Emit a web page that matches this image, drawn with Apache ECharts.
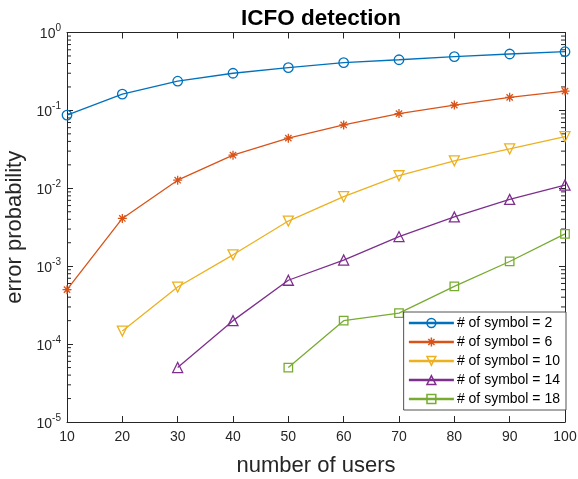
<!DOCTYPE html>
<html>
<head>
<meta charset="utf-8">
<script src="https://cdn.jsdelivr.net/npm/echarts@6/dist/echarts.min.js"></script>
<style>html,body{margin:0;padding:0;background:#fff}#c{width:578px;height:479px}</style>
</head>
<body>
<div id="c"></div>
<script>
var users = [10, 20, 30, 40, 50, 60, 70, 80, 90, 100];
var seriesNames = ['# of symbol = 2', '# of symbol = 6', '# of symbol = 10', '# of symbol = 14', '# of symbol = 18'];
var sym2  = [0.087, 0.162, 0.237, 0.30, 0.354, 0.41, 0.447, 0.49, 0.53, 0.567];
var sym6  = [5.0e-4, 0.0041, 0.0127, 0.0266, 0.044, 0.065, 0.091, 0.117, 0.147, 0.177];
var sym10 = [null, 1.47e-4, 5.4e-4, 1.4e-3, 3.8e-3, 7.8e-3, 0.0145, 0.0225, 0.032, 0.046];
var sym14 = [null, null, 5.0e-5, 2.0e-4, 6.6e-4, 1.2e-3, 2.4e-3, 4.3e-3, 7.2e-3, 0.011];
var sym18 = [null, null, null, null, 5.0e-5, 2.0e-4, 2.5e-4, 5.5e-4, 1.15e-3, 2.6e-3];
var decades = [1e-5, 1e-4, 1e-3, 1e-2, 1e-1];
var minorFactors = [2, 3, 4, 5, 6, 7, 8, 9];

var colors = ['#0072BD', '#D95319', '#EDB120', '#7E2F8E', '#77AC30'];
var symbols = [
  'circle',
  'path://M0,-10 L0,10 M-10,0 L10,0 M-7,-7 L7,7 M-7,7 L7,-7',
  'path://M-10,-8.66 L10,-8.66 L0,8.66 Z',
  'path://M-10,8.66 L10,8.66 L0,-8.66 Z',
  'rect'
];
var symSizes = [9.5, 9, 10, 10, 8.5];
var allData = [sym2, sym6, sym10, sym14, sym18];

function pairs(arr) {
  var out = [];
  for (var i = 0; i < users.length; i++) {
    if (arr[i] != null) out.push([users[i], arr[i]]);
  }
  return out;
}

var minorData = [];
decades.forEach(function (d) {
  minorFactors.forEach(function (f) { minorData.push([users[0], d * f]); });
});

var FONT = 'Liberation Sans, Arial, Helvetica, sans-serif';
var TXT = '#262626';

var series = allData.map(function (d, i) {
  return {
    name: seriesNames[i],
    type: 'line',
    data: pairs(d),
    symbol: symbols[i],
    symbolSize: symSizes[i],
    showAllSymbol: true,
    lineStyle: { color: colors[i], width: 1.3 },
    itemStyle: { color: 'rgba(255,255,255,0)', borderColor: colors[i], borderWidth: 1.3 },
    emphasis: { disabled: true },
    animation: false,
    z: 3 + i
  };
});

series.push({
  type: 'custom',
  name: 'minorTicks',
  silent: true,
  animation: false,
  data: minorData,
  clip: false,
  renderItem: function (params, api) {
    var v = api.value(1);
    var l = api.coord([users[0], v]);
    var r = api.coord([users[users.length - 1], v]);
    return {
      type: 'group',
      children: [
        { type: 'line', shape: { x1: l[0], y1: l[1], x2: l[0] + 4, y2: l[1] }, style: { stroke: TXT, lineWidth: 1 } },
        { type: 'line', shape: { x1: r[0], y1: r[1], x2: r[0] - 4, y2: r[1] }, style: { stroke: TXT, lineWidth: 1 } }
      ]
    };
  },
  z: 2
});

var chart = echarts.init(document.getElementById('c'), null, { renderer: 'canvas' });
chart.setOption({
  backgroundColor: '#ffffff',
  animation: false,
  textStyle: { fontFamily: FONT },
  title: {
    text: 'ICFO detection',
    left: 316, top: 2,
    textAlign: 'center',
    textStyle: { fontFamily: FONT, fontWeight: 'bold', fontSize: 22.5, color: '#000' }
  },
  grid: { left: 67, right: 13, top: 32.5, bottom: 57, containLabel: false, outerBoundsMode: 'none' },
  legend: {
    right: 12, top: 312,
    orient: 'vertical',
    itemWidth: 45, itemHeight: 11, itemGap: 5,
    padding: [4, 6, 4, 4],
    borderColor: '#262626', borderWidth: 0.8,
    backgroundColor: '#ffffff',
    textStyle: { fontFamily: FONT, fontSize: 14, color: '#000', padding: [0, 0, 0, -2] },
    data: seriesNames.map(function (n, i) {
      return { name: n, itemStyle: { color: 'rgba(255,255,255,0)', borderColor: colors[i], borderWidth: 1.5 }, lineStyle: { color: colors[i], width: 2.5 } };
    }),
    z: 20
  },
  xAxis: [{
    type: 'value', min: 10, max: 100, interval: 10,
    name: 'number of users', nameLocation: 'middle', nameGap: 33,
    nameTextStyle: { fontFamily: FONT, fontSize: 22, color: TXT },
    axisLine: { show: true, onZero: false, lineStyle: { color: TXT, width: 1 } },
    axisTick: { show: true, inside: true, length: 6, lineStyle: { color: TXT } },
    axisLabel: { fontFamily: FONT, fontSize: 14, color: TXT, margin: 8 },
    splitLine: { show: false }
  }, {
    type: 'value', min: 10, max: 100, interval: 10, position: 'top',
    axisLine: { show: true, onZero: false, lineStyle: { color: TXT, width: 1 } },
    axisTick: { show: true, inside: true, length: 6, lineStyle: { color: TXT } },
    axisLabel: { show: false },
    splitLine: { show: false }
  }],
  yAxis: [{
    type: 'log', logBase: 10, min: 1e-5, max: 1,
    name: 'error probability', nameLocation: 'middle', nameGap: 32,
    nameTextStyle: { fontFamily: FONT, fontSize: 22, color: TXT },
    axisLine: { show: true, onZero: false, lineStyle: { color: TXT, width: 1 } },
    axisTick: { show: true, inside: true, length: 6, lineStyle: { color: TXT } },
    axisLabel: {
      margin: 6,
      formatter: function (v) {
        var e = Math.round(Math.log(v) / Math.LN10);
        return '{b|10}{s|' + e + '}';
      },
      rich: {
        b: { fontFamily: FONT, fontSize: 14, color: TXT, lineHeight: 18, verticalAlign: 'bottom' },
        s: { fontFamily: FONT, fontSize: 10, color: TXT, lineHeight: 18, verticalAlign: 'top' }
      }
    },
    splitLine: { show: false }
  }, {
    type: 'log', logBase: 10, min: 1e-5, max: 1, position: 'right',
    axisLine: { show: true, onZero: false, lineStyle: { color: TXT, width: 1 } },
    axisTick: { show: true, inside: true, length: 6, lineStyle: { color: TXT } },
    axisLabel: { show: false },
    splitLine: { show: false }
  }],
  series: series
});
</script>
</body>
</html>
